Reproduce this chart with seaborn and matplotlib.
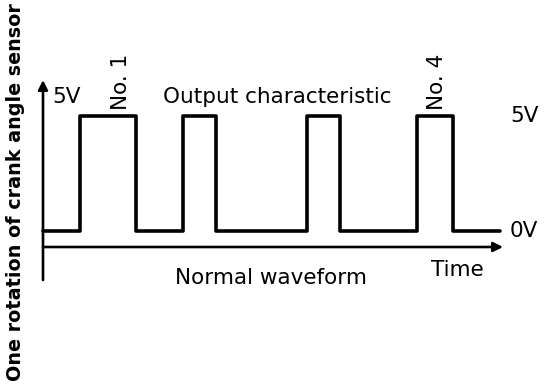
import numpy as np
import pandas as pd
import matplotlib
matplotlib.use("Agg")
import matplotlib.pyplot as plt
import seaborn as sns

# ── Waveform data (time in arbitrary units, output in volts) ─────────────
time_points = [0.0, 3.7, 9.3, 14.0, 17.3, 26.4, 29.7, 37.4, 41.0, 45.7]
voltage = [0, 5, 0, 5, 0, 5, 0, 5, 0, 0]
pulse_labels = ["No. 1", "No. 4"]
pulse_label_times = [7.8, 39.4]
level_labels = ["5V", "0V"]
level_values = [5, 0]

sns.set_theme(style="white")
plt.rcParams["font.family"] = ["DejaVu Sans"]
plt.rcParams["text.color"] = "black"

W, H, DPI = 560, 386, 100
fig = plt.figure(figsize=(W / DPI, H / DPI), dpi=DPI)
ax = fig.add_axes([0, 0, 1, 1])

# 1 time unit = 10 px, 1 V = 23 px ; origin of time at x=43px, 0V at y=231px
X0, XS = 43, 10.0
Y0, YS = 231, 23.0
ax.set_xlim((0 - X0) / XS, (W - X0) / XS)
ax.set_ylim((Y0 - H) / YS, (Y0 - 0) / YS)
ax.axis("off")


def px(x, y):
    """pixel position (top-left origin) -> data coords"""
    return (x - X0) / XS, (Y0 - y) / YS


df = pd.DataFrame({"time": time_points, "volt": voltage})
sns.lineplot(data=df, x="time", y="volt", drawstyle="steps-post", sort=False,
             color="black", linewidth=2.6, ax=ax)

# axes with arrows
axis_y = px(0, 247)[1]
ax.annotate("", xy=(px(503, 0)[0], axis_y), xytext=(0, axis_y),
            arrowprops=dict(arrowstyle="-|>", color="black", lw=1.9,
                            mutation_scale=14, shrinkA=0, shrinkB=0))
ax.annotate("", xy=(0, px(0, 80)[1]), xytext=(0, px(0, 280)[1]),
            arrowprops=dict(arrowstyle="-|>", color="black", lw=1.9,
                            mutation_scale=14, shrinkA=0, shrinkB=0))

fs = 15.5
ax.text(*px(52, 97), level_labels[0], fontsize=fs, ha="left", va="center")
ax.text(*px(163, 97), "Output characteristic", fontsize=fs, ha="left", va="center")
for lab, t in zip(pulse_labels, pulse_label_times):
    ax.text(t, px(0, 110)[1], lab, fontsize=fs, rotation=90, ha="center", va="bottom")
for lab, v in zip(level_labels, level_values):
    ax.text(px(510, 0)[0], v, lab, fontsize=fs, ha="left", va="center")
ax.text(*px(457, 270), "Time", fontsize=fs, ha="center", va="center")
ax.text(*px(271, 278), "Normal waveform", fontsize=fs, ha="center", va="center")
ax.text(*px(16, 192), "One rotation of crank angle sensor", fontsize=13.8,
        fontweight="bold", rotation=90, ha="center", va="center")

fig.savefig("out.png", dpi=DPI, facecolor="white")
